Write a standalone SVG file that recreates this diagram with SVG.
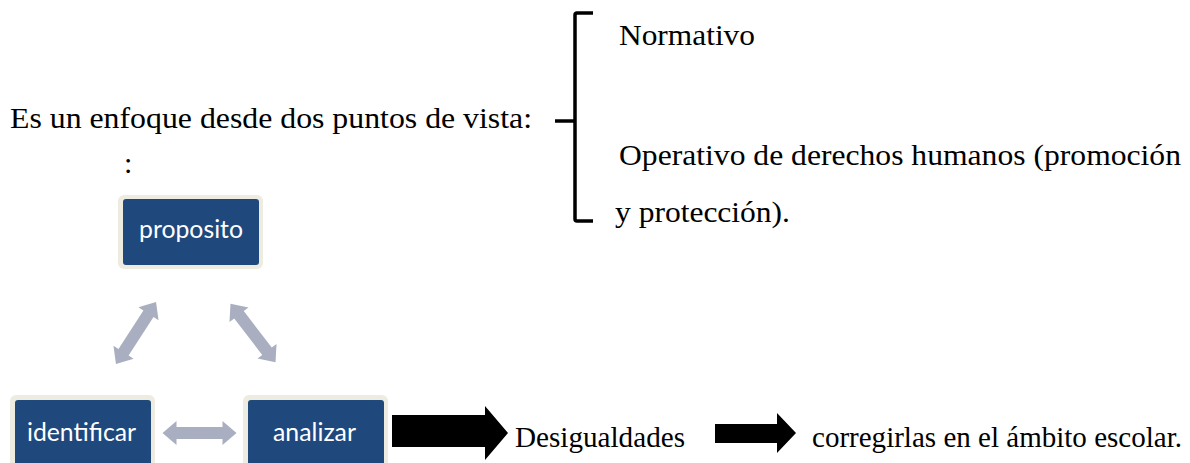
<svg xmlns="http://www.w3.org/2000/svg" width="1190" height="463" viewBox="0 0 1190 463">
  <style>
    .serif { font-family: 'Liberation Serif', Tinos, 'Times New Roman', Times, serif; fill: #000; }
    .frame { fill: #EEECE1; }
    .box { fill: #1F497D; }
    .lbl { font-family: Lato, 'Open Sans', sans-serif; font-size: 25px; fill: #FFFFFF; }
    .garrow { fill: #A9AFC0; }
    .barrow { fill: #000; }
    .brace { fill: none; stroke: #000; stroke-width: 3.5; stroke-linejoin: round; stroke-linecap: butt; }
  </style>
  <defs>
    <path id="dbl" d="M -37 0 L -23 -12 L -23 -6 L 23 -6 L 23 -12 L 37 0 L 23 12 L 23 6 L -23 6 L -23 12 Z"/>
  </defs>
  <rect width="1190" height="463" fill="#FFFFFF"/>

  <g id="intro">
    <text class="serif" x="10" y="128" font-size="30" textLength="522" lengthAdjust="spacingAndGlyphs">Es un enfoque desde dos puntos de vista:</text>
    <text class="serif" x="124" y="173" font-size="30">:</text>
  </g>

  <g id="brace">
    <path class="brace" d="M 593 13 L 577 13 Q 575 13 575 15 L 575 219 Q 575 221 577 221 L 593 221"/>
    <path class="brace" d="M 555 121 L 575 121"/>
  </g>

  <g id="normativo">
    <text class="serif" x="619" y="45" font-size="30" textLength="136" lengthAdjust="spacingAndGlyphs">Normativo</text>
  </g>
  <g id="operativo">
    <text class="serif" x="619" y="165" font-size="30" textLength="562" lengthAdjust="spacingAndGlyphs">Operativo de derechos humanos (promoción</text>
    <text class="serif" x="615" y="222" font-size="30" textLength="175" lengthAdjust="spacingAndGlyphs">y protección).</text>
  </g>

  <g id="proposito">
    <rect class="frame" x="118" y="195" width="145" height="74" rx="6"/>
    <rect class="box" x="123" y="199" width="136" height="66" rx="3"/>
    <text class="lbl" x="139" y="238" textLength="104" lengthAdjust="spacingAndGlyphs">proposito</text>
  </g>

  <g id="identificar">
    <rect class="frame" x="10" y="395" width="145" height="80" rx="6"/>
    <rect class="box" x="15" y="400" width="136" height="70" rx="3"/>
    <text class="lbl" x="27" y="441" textLength="109" lengthAdjust="spacingAndGlyphs">identificar</text>
  </g>

  <g id="analizar">
    <rect class="frame" x="243" y="395" width="145" height="80" rx="6"/>
    <rect class="box" x="248" y="400" width="136" height="70" rx="3"/>
    <text class="lbl" x="273" y="441" textLength="83" lengthAdjust="spacingAndGlyphs">analizar</text>
  </g>

  <g id="desigualdades">
    <text class="serif" x="515" y="447" font-size="30" textLength="170" lengthAdjust="spacingAndGlyphs">Desigualdades</text>
  </g>
  <g id="corregirlas">
    <text class="serif" x="812" y="447" font-size="29" textLength="370" lengthAdjust="spacingAndGlyphs">corregirlas en el ámbito escolar.</text>
  </g>

  <g id="connectors">
    <use href="#dbl" class="garrow" transform="translate(136 333) rotate(122.8)"/>
    <use href="#dbl" class="garrow" transform="translate(253 333) rotate(52.5)"/>
    <use href="#dbl" class="garrow" transform="translate(199.5 433)"/>
    <polygon class="barrow" points="392,415 485,415 485,406 508,433 485,460 485,447 392,447"/>
    <polygon class="barrow" points="715,424 777,424 777,413 796,433 777,453 777,443 715,443"/>
  </g>
</svg>
